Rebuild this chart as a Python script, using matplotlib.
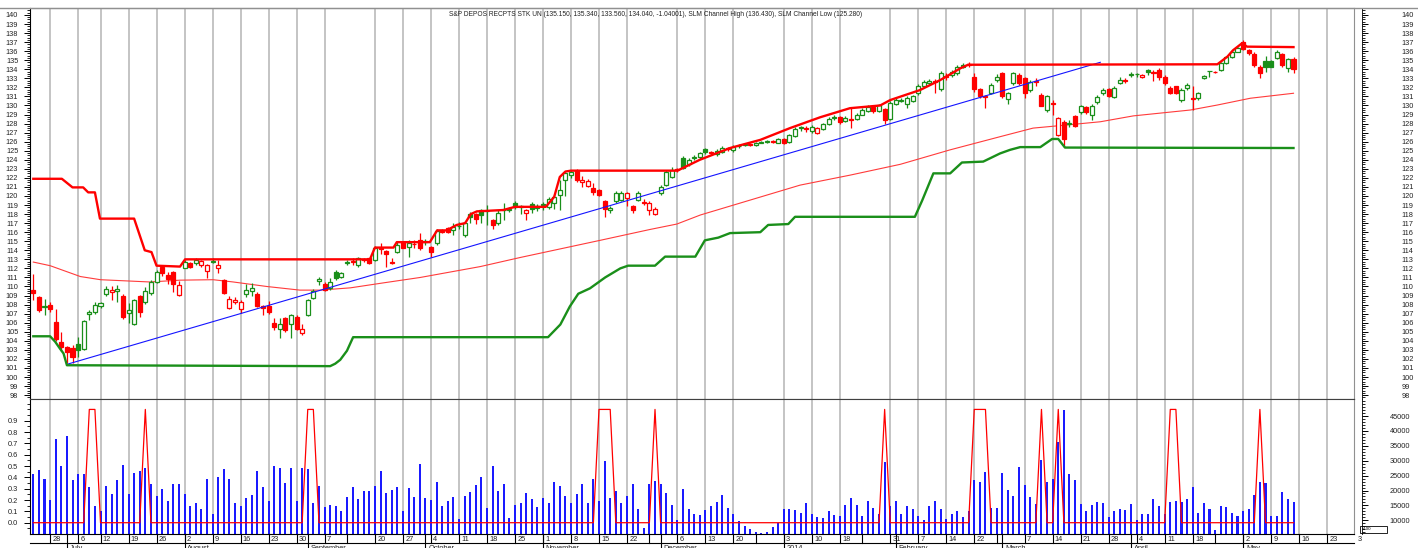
import numpy as np
import matplotlib.pyplot as plt
from matplotlib import transforms
from matplotlib.patches import Rectangle
from matplotlib.ticker import MultipleLocator, FixedLocator

plt.rcParams['font.family'] = ['Liberation Sans', 'DejaVu Sans']

# ---- data ----
opens = [109.6, 108.8, 107.75, 108.0, 106.1, 103.9, 103.3, 103.2, 103.7, 103.1,
         107.0, 107.2, 107.8, 109.2, 109.4, 109.55, 109.0, 107.1, 105.9, 109.0,
         108.3, 109.3, 110.5, 112.1, 111.3, 111.6, 109.1, 112.0, 112.6, 112.6,
         112.4, 111.7, 112.75, 112.0, 110.7, 107.6, 108.3, 107.5, 109.2, 109.5,
         109.2, 107.9, 107.9, 106.0, 105.3, 106.5, 105.9, 106.6, 104.85, 106.8,
         108.75, 110.6, 110.3, 109.85, 111.6, 111.1, 112.65, 112.8, 112.4, 113.0,
         113.1, 112.9, 114.3, 113.9, 112.75, 113.8, 114.9, 114.4, 114.75, 115.1,
         114.9, 114.4, 114.8, 116.15, 116.5, 116.2, 116.65, 115.7, 118.0, 118.0,
         118.4, 118.3, 117.3, 117.0, 118.4, 118.4, 119.2, 118.8, 118.1, 119.1,
         118.7, 119.1, 118.8, 119.26, 120.1, 121.8, 122.3, 122.8, 121.5, 121.1,
         120.85, 120.7, 119.4, 118.5, 119.4, 119.6, 119.75, 118.9, 119.6, 119.35,
         118.5, 118.0, 120.3, 121.2, 122.1, 123.0, 124.2, 123.5, 124.2, 124.3,
         125.2, 124.85, 124.6, 124.9, 125.25, 125.1, 125.5, 125.6, 125.7, 125.6,
         125.9, 126.0, 126.05, 125.9, 126.3, 126.0, 126.6, 127.6, 127.5, 127.2,
         127.0, 127.4, 127.9, 128.6, 128.7, 128.3, 128.5, 128.5, 129.0, 129.4,
         129.8, 129.4, 129.6, 128.5, 130.2, 130.55, 130.2, 130.5, 131.4, 132.1,
         132.5, 132.65, 131.8, 133.3, 133.4, 133.6, 134.2, 134.6, 133.2, 131.8,
         131.1, 131.4, 132.8, 133.6, 130.7, 132.45, 133.4, 133.0, 131.7, 132.65,
         131.2, 129.5, 130.3, 126.7, 128.2, 128.0, 128.8, 129.3, 129.8, 128.95,
         130.4, 131.35, 131.8, 130.9, 132.5, 132.85, 133.35, 133.45, 133.1, 133.95,
         133.65, 133.9, 133.2, 131.9, 132.1, 130.6, 131.9, 130.8, 130.8, 133.0,
         133.8, 133.75, 133.9, 134.7, 135.4, 135.95, 137.05, 136.1, 135.7, 134.2,
         134.9, 134.9, 135.2, 135.7, 134.1, 135.15]
highs = [111.4, 108.9, 108.6, 108.3, 107.5, 105.0, 103.4, 103.5, 104.4, 106.3,
         107.4, 108.3, 108.3, 110.1, 110.0, 110.2, 109.2, 108.2, 108.6, 109.1,
         109.9, 110.7, 111.8, 112.3, 111.6, 111.7, 110.6, 112.9, 112.7, 113.1,
         112.95, 112.5, 113.2, 112.9, 110.8, 109.0, 108.8, 108.5, 110.3, 110.4,
         109.4, 108.0, 108.4, 106.5, 106.5, 106.6, 107.0, 106.8, 105.9, 108.6,
         109.75, 111.1, 110.5, 110.9, 111.8, 111.6, 112.9, 113.2, 113.3, 113.1,
         113.2, 114.5, 114.8, 114.0, 113.2, 114.9, 115.0, 115.1, 115.1, 115.9,
         115.3, 114.5, 116.3, 116.3, 116.6, 117.0, 117.1, 117.2, 118.2, 118.1,
         118.6, 119.0, 117.5, 118.45, 119.2, 118.8, 119.4, 119.0, 118.6, 119.3,
         119.1, 119.3, 119.9, 120.1, 121.8, 122.7, 122.9, 123.0, 122.2, 121.85,
         121.4, 120.8, 119.6, 118.9, 120.5, 120.5, 120.4, 119.0, 120.5, 119.7,
         119.4, 118.8, 121.2, 122.9, 123.2, 123.1, 124.4, 124.2, 124.5, 124.9,
         125.3, 125.0, 125.2, 125.5, 125.4, 125.6, 125.7, 125.8, 125.8, 126.0,
         126.1, 126.2, 126.2, 126.4, 126.4, 126.9, 127.6, 127.7, 127.7, 127.8,
         127.6, 128.1, 128.7, 128.9, 128.8, 128.8, 129.7, 129.2, 129.7, 130.0,
         129.9, 130.2, 129.7, 130.5, 130.8, 130.8, 131.0, 131.2, 132.4, 132.8,
         132.9, 132.9, 133.8, 133.6, 133.9, 134.5, 134.7, 134.8, 133.6, 131.9,
         131.2, 132.5, 133.5, 133.7, 131.5, 133.7, 133.55, 133.2, 132.8, 133.0,
         131.35, 131.2, 130.6, 128.7, 128.4, 128.4, 128.9, 130.1, 129.9, 130.2,
         131.2, 131.9, 131.9, 132.1, 133.2, 133.0, 133.7, 133.6, 133.5, 134.0,
         133.9, 134.1, 133.35, 132.1, 132.2, 131.9, 132.5, 132.1, 131.5, 133.4,
         133.85, 133.8, 134.8, 135.5, 136.1, 136.5, 137.2, 136.2, 135.9, 134.5,
         135.5, 135.0, 136.1, 135.75, 135.3, 135.34]
lows = [108.5, 107.2, 106.8, 107.2, 104.0, 102.9, 101.5, 101.6, 102.2, 103.0,
        106.3, 107.0, 107.6, 109.0, 108.5, 108.3, 106.4, 106.0, 105.8, 106.6,
        108.1, 109.1, 110.4, 111.2, 110.3, 109.4, 109.0, 112.0, 112.0, 112.4,
        112.2, 110.9, 112.6, 111.5, 109.2, 107.5, 108.1, 107.1, 108.8, 109.0,
        107.7, 106.8, 107.0, 105.2, 104.3, 105.0, 104.3, 105.2, 104.6, 106.7,
        108.6, 110.2, 109.5, 109.6, 110.7, 110.9, 112.4, 112.4, 112.2, 112.7,
        112.5, 112.8, 113.6, 112.2, 112.5, 113.7, 114.2, 113.3, 114.2, 114.0,
        114.6, 113.3, 114.6, 115.9, 115.9, 115.7, 116.3, 115.5, 117.0, 116.9,
        117.0, 116.8, 116.3, 116.8, 117.4, 118.2, 118.6, 118.0, 117.35, 118.1,
        118.3, 118.4, 118.6, 118.6, 118.45, 120.0, 122.0, 121.6, 121.0, 120.95,
        120.1, 120.0, 117.7, 118.1, 119.2, 119.5, 118.9, 118.1, 119.4, 119.0,
        117.9, 117.9, 120.1, 121.1, 122.0, 122.7, 123.0, 123.3, 124.0, 124.1,
        124.6, 124.5, 124.4, 124.7, 125.0, 124.9, 125.3, 125.5, 125.5, 125.5,
        125.8, 125.9, 125.8, 125.8, 125.7, 125.9, 126.5, 127.2, 127.1, 127.0,
        126.9, 127.3, 127.8, 128.4, 127.9, 128.2, 127.5, 128.4, 128.9, 129.3,
        129.2, 129.3, 128.0, 128.4, 130.0, 130.4, 129.7, 130.4, 131.2, 132.0,
        132.3, 131.4, 131.6, 132.8, 133.2, 133.4, 134.1, 134.3, 131.5, 130.8,
        129.7, 131.3, 132.6, 130.8, 130.2, 132.3, 132.3, 130.8, 131.5, 132.1,
        129.9, 129.3, 128.95, 126.6, 125.45, 127.6, 127.6, 129.1, 129.1, 128.4,
        130.2, 131.2, 130.9, 130.8, 132.4, 132.5, 133.1, 133.2, 133.0, 133.4,
        132.7, 132.8, 132.3, 131.3, 131.3, 130.4, 131.7, 129.5, 130.6, 132.9,
        133.2, 133.6, 133.8, 134.6, 135.3, 135.9, 136.1, 135.6, 134.3, 133.0,
        133.7, 134.2, 135.1, 134.3, 133.7, 133.56]
closes = [109.3, 107.4, 107.9, 107.5, 104.2, 103.3, 102.75, 102.2, 103.0, 106.2,
          107.2, 108.0, 108.15, 109.7, 109.6, 109.7, 106.6, 107.35, 108.5, 107.2,
          109.5, 110.5, 111.6, 111.5, 110.8, 110.3, 110.2, 112.7, 112.2, 112.9,
          112.85, 112.4, 112.8, 112.4, 109.3, 108.6, 108.5, 108.3, 109.6, 109.85,
          107.9, 107.65, 107.2, 105.5, 105.9, 105.2, 106.8, 105.3, 105.25, 108.5,
          109.45, 110.85, 109.6, 110.5, 110.95, 111.5, 112.75, 112.7, 113.1, 112.9,
          112.6, 114.3, 114.1, 113.6, 112.65, 114.6, 114.3, 114.8, 114.7, 114.2,
          115.0, 113.85, 116.1, 116.05, 116.0, 116.6, 116.7, 117.0, 117.7, 117.5,
          117.9, 118.35, 116.8, 118.1, 118.5, 118.55, 118.75, 118.85, 118.5, 118.6,
          118.9, 118.95, 119.7, 119.9, 120.7, 122.5, 122.7, 121.8, 121.75, 121.7,
          120.4, 120.1, 118.6, 118.65, 120.3, 120.35, 120.3, 118.5, 120.3, 119.25,
          119.2, 118.6, 121.0, 122.7, 122.9, 122.85, 123.1, 124.0, 124.3, 124.7,
          124.9, 124.75, 125.0, 125.3, 125.2, 125.4, 125.55, 125.7, 125.6, 125.9,
          126.0, 126.1, 126.0, 126.3, 125.8, 126.7, 127.4, 127.5, 127.4, 127.6,
          127.5, 127.9, 128.5, 128.7, 128.2, 128.6, 128.4, 129.0, 129.5, 129.8,
          129.4, 130.0, 128.4, 130.3, 130.6, 130.65, 130.8, 131.0, 132.1, 132.6,
          132.7, 132.55, 133.6, 133.2, 133.7, 134.3, 134.5, 134.45, 131.8, 131.0,
          130.9, 132.3, 133.2, 131.0, 131.35, 133.6, 132.5, 131.4, 132.6, 132.55,
          129.95, 131.0, 130.2, 128.6, 126.3, 128.05, 127.7, 129.9, 129.3, 129.9,
          130.9, 131.7, 131.0, 131.9, 132.8, 132.75, 133.45, 133.5, 133.4, 133.7,
          133.6, 133.2, 132.45, 131.4, 131.35, 131.7, 132.3, 130.7, 131.4, 133.3,
          133.85, 133.7, 134.7, 135.4, 135.95, 136.3, 136.2, 135.8, 134.5, 133.6,
          134.2, 134.3, 135.95, 134.5, 135.1, 134.04]

# volume in hundreds (right scale of lower panel)
volume = [25500, 26900, 24000, 16800, 37300, 28200, 38300, 23500, 25500, 25500,
          21200, 14700, 13200, 21400, 18700, 23500, 28400, 18700, 25900, 26500,
          27400, 22300, 18300, 20400, 16400, 22100, 22100, 18700, 14700, 15900,
          13900, 24000, 12000, 24400, 27300, 24000, 15900, 14900, 17400, 18500,
          26700, 21200, 16400, 28200, 27600, 22500, 27600, 16600, 27600, 27100,
          15700, 21400, 14300, 15100, 14900, 13000, 17900, 21200, 17000, 20000,
          19700, 21600, 26700, 19300, 20200, 21200, 13000, 21000, 17900, 28800,
          17400, 16800, 22900, 14900, 16400, 17800, 10300, 18100, 19500, 21700,
          24400, 14100, 28200, 20000, 22100, 10900, 15300, 15900, 19100, 17000,
          14500, 17600, 15900, 22700, 21600, 18100, 15900, 18900, 22100, 15900,
          24000, 16400, 29900, 17400, 19700, 15700, 18100, 22300, 13900, 7500,
          22300, 23300, 22100, 19100, 15300, 10200, 20600, 13800, 12200, 11900,
          13400, 14900, 16000, 18500, 14100, 12000, 9600, 8100, 7100, 6000,
          5600, 6200, 7700, 9200, 13900, 13800, 13400, 12400, 15700, 12200,
          11100, 10900, 13000, 11900, 11500, 15300, 17600, 15300, 11500, 16600,
          14100, 12200, 29500, 14900, 16600, 12000, 14700, 13800, 11300, 10200,
          14700, 16400, 13900, 10300, 12000, 13000, 11100, 13100, 23400, 22700,
          26300, 14200, 14200, 26000, 20200, 18000, 28000, 22000, 17700, 15600,
          30300, 22700, 23700, 36200, 47000, 25500, 23400, 15600, 13200, 15000,
          16000, 15800, 11200, 13100, 13700, 13500, 15500, 10100, 12100, 12100,
          17200, 14900, 12100, 16100, 16500, 16200, 17200, 21200, 12600, 15800,
          13700, 6800, 14800, 14500, 12600, 11500, 13000, 13800, 18500, 23000,
          22500, 11600, 11600, 19500, 17200, 16000]

# bars where the lower-panel signal line sits at 1
signal_days = [10, 11, 20, 49, 50, 101, 102, 103, 111, 152, 168, 169, 170,
               180, 183, 203, 204, 219]

# SLM channel high / low and the moving average (bar index, price)
ch_hi_idx = [0, 5.1, 7.0, 8.9, 9.8, 11.0, 11.9, 18.0, 19.9, 21.1, 22.0, 26.2,
             27.1, 60.1, 61.0, 64.3, 64.9, 70.8, 72.1, 73.8, 75.6, 77.1, 78.1,
             79.2, 83.9, 86.0, 91.5, 93.0, 94.0, 95.0, 96, 115, 119, 124.4,
             129.8, 135.1, 140.5, 145.8, 151.2, 153, 158.3, 161.9, 165.5, 166.9,
             211.4, 213.2, 214.2, 215.8, 216.7, 225]
ch_hi_val = [121.9, 121.9, 120.95, 120.95, 120.4, 120.4, 117.5, 117.5, 114.0,
             113.8, 112.3, 112.2, 113.0, 113.0, 114.3, 114.3, 114.9, 114.9,
             116.2, 116.2, 116.8, 117.0, 118.0, 118.3, 118.45, 118.8, 118.8,
             119.9, 122.1, 122.7, 122.8, 122.8, 124.0, 125.3, 126.2, 127.5,
             128.7, 129.7, 130.0, 130.6, 131.7, 132.8, 134.1, 134.5, 134.55,
             135.4, 136.1, 136.87, 136.5, 136.45]
ch_lo_idx = [0, 3, 3.9, 4.8, 5.4, 6.0, 53, 53.9, 54.8, 56, 57.1, 91.9, 94.1,
             95.8, 97.3, 99.4, 102.1, 104.8, 106.2, 111, 112.8, 118.2, 119.9,
             122.3, 124.4, 129.8, 131.2, 134.8, 136, 157.4, 158.7, 160.7, 163.7,
             165.8, 169.6, 172.6, 174.4, 176.2, 179.8, 181.9, 183, 184.2, 225]
ch_lo_val = [104.5, 104.5, 103.9, 103.1, 102.6, 101.3, 101.2, 101.47, 101.9,
             102.9, 104.4, 104.4, 105.8, 107.8, 109.2, 109.8, 111.0, 112.0,
             112.3, 112.3, 113.3, 113.3, 115.1, 115.4, 115.9, 116.0, 116.8,
             116.9, 117.7, 117.7, 119.5, 122.5, 122.5, 123.7, 123.8, 124.7,
             125.1, 125.4, 125.4, 126.3, 126.3, 125.35, 125.3]
ma_idx = [0, 3, 8.4, 12, 20.8, 26.2, 32.1, 35.7, 41.7, 47.6, 51.2, 56.6, 62.5,
          69.1, 79.8, 86.9, 101.2, 110.1, 114.9, 119.1, 128, 136.9, 145.8,
          154.8, 163.7, 172.6, 178.5, 184.6, 190.5, 196.4, 206.6, 211.4, 217.3,
          225]
ma_val = [112.7, 112.3, 111.1, 110.75, 110.5, 110.7, 110.75, 110.5, 110.0,
          109.6, 109.6, 109.85, 110.4, 111.0, 112.2, 113.2, 115.1, 116.3, 116.9,
          117.9, 119.55, 121.2, 122.3, 123.5, 125.1, 126.55, 127.5, 127.85,
          128.2, 128.85, 129.5, 130.05, 130.8, 131.35]
trend_idx = [6, 190.5]
trend_val = [101.4, 134.77]

# date axis (bar index of each tick)
day_idx = [3, 8, 12, 17, 22, 27, 32, 37, 42, 47, 52, 56, 61, 66, 71, 76, 81,
           86, 91, 96, 101, 106, 110, 115, 120, 125, 129, 134, 139, 144, 148,
           153, 158, 163, 168, 172, 177, 182, 187, 192, 197, 202, 207, 211,
           216, 221, 226, 231, 236]
day_lab = ['28', '6', '12', '19', '26', '2', '9', '16', '23', '30', '7', '',
           '20', '27', '4', '11', '18', '25', '1', '8', '15', '22', '', '6',
           '13', '20', '', '3', '10', '18', '', '31', '7', '14', '22', '', '7',
           '14', '21', '28', '4', '11', '18', '', '2', '9', '16', '23', '3']
month_idx = [6, 27, 49, 70, 91, 112, 134, 154, 173, 196, 216]
month_lab = ['July', 'August', 'September', 'October', 'November', 'December',
             '2014', 'February', 'March', 'April', 'May']

title = ('S&P DEPOS RECPTS STK UN (135.150, 135.340, 133.560, 134.040, -1.04001), '
         'SLM Channel High (136.430), SLM Channel Low (125.280)')

# ---- layout (pixel helpers) ----
W, H = 1418, 548
GREEN = '#1a8f1a'
RED = '#ff0000'
GRID = '#c4c4c4'
FS = 5.3


def fx(px):
    return px / W


def fy(py):
    return 1 - py / H


def right_labels(axis, ticks, labels, pad):
    # tick labels on the right-hand ruler
    axis.yaxis.set_ticks_position('right')
    axis.set_yticks(ticks, labels=labels)
    axis.tick_params(axis='y', which='major', left=False, labelleft=False,
                     right=True, labelright=True, length=4, width=0.7,
                     labelsize=FS, pad=pad, labelcolor='#222222')
    axis.tick_params(axis='y', which='minor', left=False, right=True,
                     length=2, width=0.6)
    axis.spines['right'].set_position(('outward', 6))
    axis.spines['right'].set_linewidth(0.6)
    for s in ('left', 'top', 'bottom'):
        axis.spines[s].set_visible(False)


fig = plt.figure(figsize=(W / 100, H / 100), dpi=100)
ax = fig.add_axes([fx(30), fy(399), fx(1354) - fx(30), fy(8) - fy(399)])
axv = fig.add_axes([fx(30), fy(534), fx(1354) - fx(30), fy(399) - fy(534)])

x = np.arange(len(closes))
o, h, l, c = (np.array(v) for v in (opens, highs, lows, closes))
prev = np.r_[o[0], c[:-1]]
col = np.where(c >= prev, GREEN, RED)
face = np.where(c >= o, 'white', col)

xlim = (-0.59, 235.8)

# price panel
for i, lab in zip(day_idx, day_lab):
    if lab and i < 235:
        ax.axvline(i, color=GRID, lw=1.4, zorder=0.5)
        axv.axvline(i, color=GRID, lw=1.4, zorder=0.5)

ax.plot(ma_idx, ma_val, color='#ff3b3b', lw=0.8, zorder=2)
ax.vlines(x, l, h, colors=col, lw=0.9, zorder=3)
ax.bar(x, np.maximum(np.abs(c - o), 0.05), bottom=np.minimum(o, c), width=0.72,
       color=face, edgecolor=col, linewidth=0.9, zorder=4)
ax.plot(trend_idx, trend_val, color='#1414ff', lw=0.8, zorder=5)
ax.plot(ch_hi_idx, ch_hi_val, color=RED, lw=1.7, zorder=6)
ax.plot(ch_lo_idx, ch_lo_val, color=GREEN, lw=1.7, zorder=6)

ax.set_xlim(*xlim)
ax.set_ylim(97.57, 140.77)
ax.yaxis.set_major_locator(MultipleLocator(1))
ax.yaxis.set_minor_locator(MultipleLocator(0.25))
ax.tick_params(axis='y', which='major', length=4, width=0.7, labelsize=FS,
               pad=4.5, labelcolor='#222222')
ax.tick_params(axis='y', which='minor', length=2, width=0.6)
ax.tick_params(axis='x', bottom=False, labelbottom=False)
ax.spines['left'].set_color('black')
ax.spines['right'].set_color('#909090')
ax.spines['top'].set_color('#909090')
ax.spines['bottom'].set_color('#404040')

axr = ax.twinx()
axr.set_ylim(ax.get_ylim())
axr.yaxis.set_minor_locator(MultipleLocator(0.25))
right_labels(axr, np.arange(98, 141), [str(v) for v in range(98, 141)], 24)

# lower panel: volume (right scale), signal (left scale)
axv.bar(x, np.array(volume) - 5404, bottom=5404, width=0.36, color='#1a1aff',
        zorder=2)
axv.set_xlim(*xlim)
axv.set_ylim(5404, 50713)
axv.tick_params(axis='x', bottom=False, labelbottom=False)

axs = axv.twinx()
signal = np.zeros(len(closes))
signal[signal_days] = 1
axs.plot(x, signal, color=RED, lw=0.9, zorder=3)
axs.set_ylim(-0.0997, 1.092)
axs.yaxis.tick_left()
axs.set_yticks(np.arange(0, 0.95, 0.1),
               labels=['%.1f' % v for v in np.arange(0, 0.95, 0.1)])
axs.yaxis.set_minor_locator(FixedLocator(np.arange(-0.1, 1.09, 0.05)))
axs.tick_params(axis='y', which='major', length=4, width=0.7, labelsize=FS,
                pad=4.5, labelcolor='#222222')
axs.tick_params(axis='y', which='minor', length=2, width=0.6)
axs.spines['left'].set_color('black')
axs.spines['bottom'].set_color('black')
axs.spines['top'].set_color('#404040')
axs.spines['right'].set_color('#909090')

# twinx moved the volume ticks to the left, put them back on the ruler
axv.yaxis.set_minor_locator(MultipleLocator(1000))
right_labels(axv, np.arange(10000, 45001, 5000),
             [str(v) for v in range(10000, 45001, 5000)], 15.5)

# date rows under the lower panel
trans = transforms.blended_transform_factory(axv.transData, fig.transFigure)
for i, lab in zip(day_idx, day_lab):
    if i < 236:
        axv.plot([i, i], [fy(534), fy(543.3)], transform=trans, color='black',
                 lw=0.8, clip_on=False)
    axv.text(i + 0.4, fy(539.3), lab, transform=trans, fontsize=FS,
             ha='left', va='center', color='#222222', clip_on=False)
for i, lab in zip(month_idx, month_lab):
    axv.plot([i, i], [fy(534), fy(548)], transform=trans, color='black',
             lw=0.8, clip_on=False)
    axv.text(i + 0.5, fy(545.2), lab, transform=trans, fontsize=FS,
             ha='left', va='top', color='#222222', clip_on=False)
fig.add_artist(plt.Line2D([fx(30), fx(1354)], [fy(543.3), fy(543.3)],
                          color='black', lw=0.8))

# frame line across the top and the x100 box
fig.add_artist(plt.Line2D([0, 1], [fy(8), fy(8)], color='#909090', lw=1))
fig.add_artist(Rectangle((fx(1360), fy(533)), fx(27), 7 / H, fill=False,
                         edgecolor='black', lw=0.6, transform=fig.transFigure))
fig.text(fx(1362), fy(529.5), 'x100', fontsize=3.2, va='center', ha='left')

fig.text(fx(656), fy(15), title, ha='center', va='center', fontsize=4.8,
         color='#222222')

fig.savefig('out.png', dpi=100)
